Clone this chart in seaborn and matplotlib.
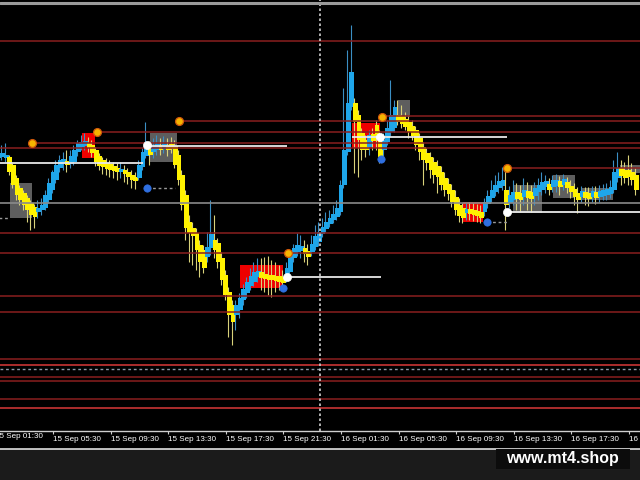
import numpy as np
import pandas as pd
import matplotlib
matplotlib.use("Agg")
import matplotlib.pyplot as plt
from matplotlib.patches import Rectangle
from matplotlib.lines import Line2D
import seaborn as sns

# ---------------- candle data (M15 bars, price in points) ----------------
bar_open = [
    842, 843, 842, 843, 835, 822, 812, 807, 802, 797,
    793, 788, 790, 792, 800, 810, 820, 832, 836, 839,
    836, 838, 848, 853, 854, 857, 855, 850, 844, 840,
    837, 836, 834, 832, 828, 830, 828, 825, 823, 822,
    833, 844, 853, 848, 850, 855, 851, 855, 856, 854,
    845, 825, 805, 778, 772, 767, 755, 750, 743, 752,
    760, 757, 742, 725, 708, 695, 685, 690, 700, 707,
    714, 718, 723, 728, 726, 725, 725, 724, 724, 723,
    722, 728, 742, 748, 749, 752, 749, 748, 753, 758,
    766, 771, 776, 780, 783, 788, 815, 848, 893, 897,
    885, 867, 860, 853, 866, 875, 860, 850, 858, 868,
    872, 885, 884, 881, 878, 874, 870, 862, 853, 847,
    843, 838, 834, 828, 822, 816, 810, 803, 795, 792,
    787, 791, 790, 789, 788, 788, 796, 802, 808, 812,
    814, 810, 797, 800, 808, 807, 803, 809, 808, 804,
    808, 810, 813, 816, 813, 814, 819, 815, 818, 814,
    811, 807, 803, 808, 807, 803, 808, 803, 804, 805,
    806, 810, 822, 832, 830, 830, 828, 825]
bar_close = [
    847, 847, 845, 828, 815, 805, 800, 795, 790, 785,
    783, 792, 795, 805, 817, 828, 835, 840, 841, 835,
    844, 850, 857, 858, 859, 852, 847, 838, 834, 833,
    831, 830, 829, 828, 831, 826, 823, 820, 819, 835,
    848, 855, 845, 854, 856, 850, 856, 850, 851, 835,
    820, 795, 772, 767, 764, 750, 738, 732, 753, 766,
    750, 738, 720, 705, 685, 678, 695, 702, 711, 718,
    724, 728, 729, 722, 721, 720, 720, 719, 718, 717,
    732, 744, 752, 755, 754, 746, 743, 756, 764, 768,
    773, 778, 782, 786, 792, 815, 850, 897, 928, 878,
    860, 850, 850, 865, 859, 865, 843, 860, 872, 885,
    893, 878, 876, 873, 868, 864, 855, 848, 840, 837,
    830, 825, 823, 815, 810, 806, 798, 790, 784, 782,
    791, 786, 785, 784, 782, 798, 804, 810, 815, 819,
    820, 795, 805, 808, 801, 800, 810, 802, 801, 812,
    815, 818, 819, 810, 820, 820, 813, 821, 812, 808,
    803, 800, 809, 802, 801, 809, 802, 809, 810, 811,
    813, 828, 832, 824, 822, 823, 820, 810]
bar_high = [
    850, 855, 857, 845, 837, 825, 815, 810, 805, 800,
    796, 800, 802, 810, 822, 830, 840, 845, 848, 850,
    850, 855, 860, 865, 867, 863, 860, 853, 847, 843,
    842, 840, 838, 837, 838, 835, 832, 830, 828, 840,
    852, 878, 859, 862, 865, 862, 864, 862, 863, 860,
    850, 830, 810, 785, 778, 772, 760, 755, 768, 800,
    785, 762, 748, 730, 713, 700, 700, 707, 716, 723,
    732, 738, 742, 742, 743, 744, 740, 738, 735, 730,
    738, 750, 756, 767, 765, 760, 756, 765, 775, 778,
    782, 788, 790, 795, 800, 820, 912, 950, 975, 902,
    890, 872, 865, 870, 872, 880, 870, 867, 880, 920,
    900, 900, 895, 888, 885, 880, 874, 867, 858, 852,
    848, 843, 840, 834, 828, 822, 816, 810, 802, 797,
    797, 798, 797, 796, 795, 802, 810, 820, 825, 828,
    833, 832, 814, 820, 817, 815, 822, 818, 815, 818,
    822, 828, 825, 822, 825, 826, 824, 826, 823, 820,
    817, 813, 814, 813, 813, 814, 814, 815, 816, 817,
    820, 840, 848, 840, 838, 845, 837, 832]
bar_low = [
    840, 840, 838, 825, 812, 800, 795, 790, 778, 770,
    772, 782, 785, 790, 797, 807, 817, 828, 830, 828,
    832, 835, 844, 850, 850, 848, 843, 834, 830, 826,
    825, 823, 822, 820, 822, 818, 816, 812, 811, 820,
    830, 842, 835, 842, 845, 845, 847, 844, 847, 832,
    815, 790, 760, 738, 735, 730, 723, 727, 738, 745,
    742, 732, 715, 700, 663, 655, 670, 682, 695, 702,
    710, 714, 718, 710, 708, 705, 703, 708, 710, 712,
    718, 724, 738, 744, 742, 738, 735, 744, 750, 754,
    763, 768, 773, 777, 780, 785, 812, 845, 890, 827,
    823, 840, 843, 845, 850, 850, 837, 840, 855, 864,
    868, 875, 872, 870, 862, 860, 850, 840, 815, 830,
    822, 817, 807, 810, 804, 800, 793, 785, 778, 777,
    780, 780, 779, 778, 777, 784, 792, 798, 804, 807,
    810, 770, 792, 795, 790, 788, 795, 790, 788, 795,
    800, 805, 807, 805, 808, 808, 805, 810, 807, 802,
    795, 787, 798, 795, 794, 798, 796, 798, 800, 800,
    802, 807, 818, 815, 817, 815, 815, 805]

# ---------------- time axis ----------------
tick_bars = [-1, 15, 31, 47, 63, 79, 95, 111, 127, 143, 159, 175]
tick_labels = ["15 Sep 01:30", "15 Sep 05:30", "15 Sep 09:30", "15 Sep 13:30",
               "15 Sep 17:30", "15 Sep 21:30", "16 Sep 01:30", "16 Sep 05:30",
               "16 Sep 09:30", "16 Sep 13:30", "16 Sep 17:30", "16 Sep 21:30"]
period_separator_bar = 89.2

# ---------------- horizontal levels ----------------
red_levels = [959, 884, 879, 868, 857, 852, 832, 767, 747, 704, 688, 641, 635, 623, 619, 601, 592]
red_start_bar = [None, 107.2, 50, 27.2, 9.2, None, 141, None, None, None, None, None, None, None, None, None, None]
red_bright = [False, False, False, False, False, False, False, False, False, False, False,
              False, True, False, False, False, True]
gray_level = 797
dotted_level = 631
white_levels = [837, 854, 723, 863, 788]
white_from = [-1, 41, 80, 98, 141]
white_to = [40, 80, 106, 141, 179]
dash_levels = [812, 782, 778]
dash_from = [41, -1, 135.6]
dash_to = [49, 3, 141]

# ---------------- signal dots ----------------
orange_bar = [9.2, 27.2, 50, 80.3, 106.4, 141.1]
orange_price = [857, 868, 879, 747, 883, 832]
white_bar = [41, 80, 105.8, 141]
white_price = [855, 723, 863, 788]
blue_bar = [41, 79, 106, 135.6]
blue_price = [812, 712, 841, 778]

# ---------------- zones ----------------
box_left = [3.05, 23.1, 41.9, 66.9, 98.1, 110.8, 128.9, 142.8, 153.9, 162.0, 172.5]
box_right = [9.2, 26.7, 49.4, 78.9, 105.8, 114.2, 134.4, 150.8, 160.0, 170.5, 179.0]
box_low = [782, 842, 838, 712, 852, 883, 778, 787, 802, 800, 827]
box_high = [817, 867, 867, 735, 877, 900, 798, 815, 825, 812, 835]
box_kind = ["gray", "red", "gray", "red", "red", "gray", "red", "gray", "gray", "gray", "gray"]

# =========================================================================
sns.set_theme(style="dark", rc={"axes.facecolor": "black", "figure.facecolor": "black"})
plt.rcParams["font.family"] = ["Liberation Sans", "DejaVu Sans"]

fig = plt.figure(figsize=(6.4, 4.8), dpi=100)
fig.patch.set_facecolor("black")
ax = fig.add_axes([0, 49 / 480, 1, 431 / 480])
ax.set_facecolor("black")

XMIN, XMAX = 0.28, 178.06
ax.set_xlim(XMIN, XMAX)
ax.set_ylim(569, 1000)

# zones
for x0, x1, lo, hi, kind in zip(box_left, box_right, box_low, box_high, box_kind):
    col = "#ee0000" if kind == "red" else "#5e5e5e"
    ax.add_patch(Rectangle((x0, lo), x1 - x0, hi - lo, facecolor=col, edgecolor="none", zorder=1))

# candles
idx = np.arange(len(bar_open))
o = np.array(bar_open); c = np.array(bar_close)
h = np.array(bar_high); l = np.array(bar_low)
up = c >= o
body_col = np.where(up, "#1ea6ea", "#fff200")
wick_col = np.where(up, "#3b8fc4", "#d9d27a")
ax.vlines(idx - 0.35, l, h, colors=wick_col, lw=0.8, zorder=3)
ax.bar(idx, np.maximum(np.abs(c - o), 2.0), bottom=np.minimum(o, c), width=1.35,
       color=body_col, linewidth=0, zorder=4)

# level lines
for lev, st, br in zip(red_levels, red_start_bar, red_bright):
    x0 = XMIN if st is None else st
    ax.hlines(lev, x0, XMAX + 1, colors="#b83030" if br else "#8a1f1f",
              lw=1.3 if br else 1.1, zorder=5)
ax.axhline(gray_level, color="#8a8a8a", lw=1.2, zorder=5)
ax.axhline(dotted_level, color="#8d98a8", lw=1.0, ls=(0, (2, 2)), zorder=5)
for lev, a, b in zip(white_levels, white_from, white_to):
    ax.hlines(lev, a, b, colors="#e8e8e8", lw=1.3, zorder=6)
for lev, a, b in zip(dash_levels, dash_from, dash_to):
    ax.hlines(lev, a, b, colors="#9a9a9a", lw=1.0, linestyles=(0, (2, 2)), zorder=6)

ax.axvline(period_separator_bar, color="#d0d0d0", lw=1.2, ls=(0, (1.5, 1.5)), zorder=6)

# dots
sns.scatterplot(x=orange_bar, y=orange_price, ax=ax, s=32, color="#f5b400",
                edgecolor="#d0580a", linewidth=0.9, zorder=8)
sns.scatterplot(x=white_bar, y=white_price, ax=ax, s=34, color="white",
                edgecolor="white", linewidth=0.5, zorder=8)
sns.scatterplot(x=blue_bar, y=blue_price, ax=ax, s=28, color="#2f6fe0",
                edgecolor="#2f6fe0", linewidth=0.5, zorder=8)

# axes styling
for s in ["left", "right", "top"]:
    ax.spines[s].set_visible(False)
ax.spines["bottom"].set_color("#cfcfcf")
ax.spines["bottom"].set_linewidth(1.0)
ax.set_yticks([])
ax.set_xticks(tick_bars[1:])
ax.set_xticklabels(tick_labels[1:])
ax.tick_params(axis="x", direction="out", length=2.2, width=0.8, color="#d0d0d0",
               labelcolor="white", labelsize=5.8, pad=1.2, bottom=True)
for lab in ax.get_xticklabels():
    lab.set_horizontalalignment("left")
ax.text(tick_bars[0], -0.004, tick_labels[0], transform=ax.get_xaxis_transform(),
        ha="left", va="top", color="white", fontsize=5.8, clip_on=False)
ax.grid(False)
ax.set_xlabel(""); ax.set_ylabel("")
if ax.get_legend() is not None:
    ax.get_legend().remove()

# frame decorations
fig.add_artist(Rectangle((0, 0), 1, 31 / 480, transform=fig.transFigure,
                         facecolor="#1b1b1b", edgecolor="none", zorder=0))
fig.add_artist(Line2D([0, 1], [31 / 480, 31 / 480], transform=fig.transFigure,
                      color="#e0e0e0", lw=1.2, zorder=2))
fig.add_artist(Line2D([0, 1], [1 - 2.5 / 480, 1 - 2.5 / 480], transform=fig.transFigure,
                      color="#9a9a9a", lw=2.2, zorder=10))
fig.add_artist(Rectangle((496 / 640, 11 / 480), 134 / 640, 20 / 480, transform=fig.transFigure,
                         facecolor="#0c0c0c", edgecolor="none", zorder=3))
fig.text(562 / 640, 22 / 480, "www.mt4.shop", color="white", fontsize=11.5,
         fontweight="bold", ha="center", va="center", zorder=4)

fig.savefig("out.png", dpi=100, facecolor=fig.get_facecolor())
